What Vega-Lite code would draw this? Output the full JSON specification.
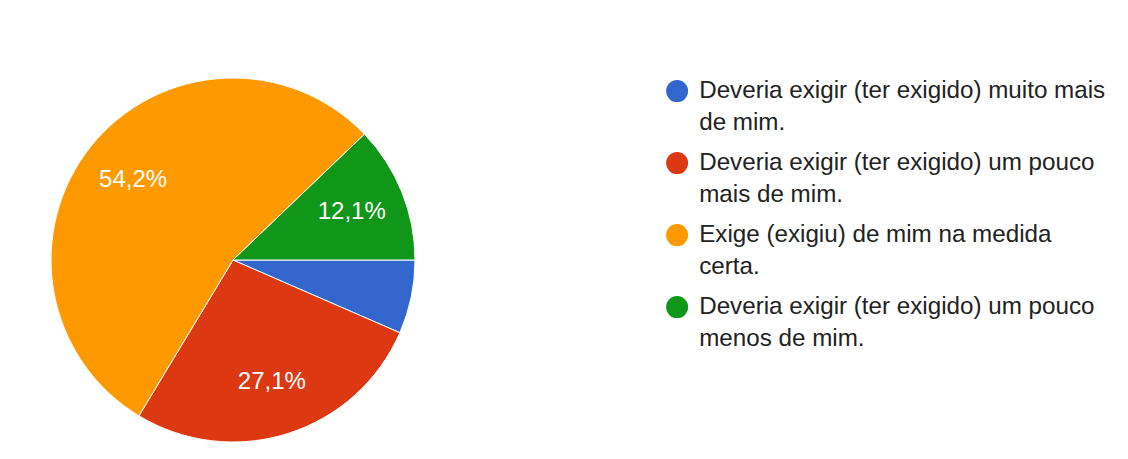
{
  "$schema": "https://vega.github.io/schema/vega-lite/v6.json",
  "width": 364,
  "height": 364,
  "autosize": {"type": "none"},
  "padding": {"left": 51, "top": 78, "right": 713, "bottom": 17},
  "background": "white",
  "data": {
    "values": [
      {"resposta": "Deveria exigir (ter exigido) muito mais de mim.", "n": 7, "ordem": 1, "rotulo": "6,5%"},
      {"resposta": "Deveria exigir (ter exigido) um pouco mais de mim.", "n": 29, "ordem": 2, "rotulo": "27,1%"},
      {"resposta": "Exige (exigiu) de mim na medida certa.", "n": 58, "ordem": 3, "rotulo": "54,2%"},
      {"resposta": "Deveria exigir (ter exigido) um pouco menos de mim.", "n": 13, "ordem": 4, "rotulo": "12,1%"}
    ]
  },
  "encoding": {
    "theta": {"field": "n", "type": "quantitative", "stack": true, "scale": {"range": [1.5707963, 7.8539816]}},
    "order": {"field": "ordem", "type": "quantitative", "sort": "ascending"}
  },
  "layer": [
    {
      "mark": {"type": "arc", "outerRadius": 182, "stroke": "white", "strokeWidth": 1},
      "encoding": {
        "color": {
          "field": "resposta",
          "type": "nominal",
          "sort": null,
          "scale": {
            "domain": [
              "Deveria exigir (ter exigido) muito mais de mim.",
              "Deveria exigir (ter exigido) um pouco mais de mim.",
              "Exige (exigiu) de mim na medida certa.",
              "Deveria exigir (ter exigido) um pouco menos de mim."
            ],
            "range": ["#3366CC", "#DC3912", "#FF9900", "#109618"]
          },
          "legend": {
            "orient": "none",
            "legendX": 614,
            "legendY": 1,
            "title": null,
            "padding": 0,
            "symbolType": "circle",
            "symbolSize": 484,
            "symbolStrokeWidth": 0,
            "symbolOpacity": 1,
            "labelFontSize": 24.2,
            "labelFont": "Liberation Sans",
            "labelColor": "#222222",
            "labelLimit": 700,
            "labelOffset": 10,
            "rowPadding": 15,
            "labelExpr": "[slice(datum.label, 0, lastindexof(slice(datum.label, 0, 40), ' ')), slice(datum.label, lastindexof(slice(datum.label, 0, 40), ' ') + 1)]"
          }
        }
      }
    },
    {
      "mark": {"type": "text", "radius": 128, "fontSize": 24, "font": "Liberation Sans", "align": "center", "baseline": "middle"},
      "encoding": {
        "text": {"condition": {"test": "datum.n < 10", "value": ""}, "field": "rotulo", "type": "nominal"},
        "color": {"value": "white"}
      }
    }
  ],
  "config": {
    "view": {"stroke": null},
    "style": {"guide-label": {"lineHeight": 32}}
  }
}
